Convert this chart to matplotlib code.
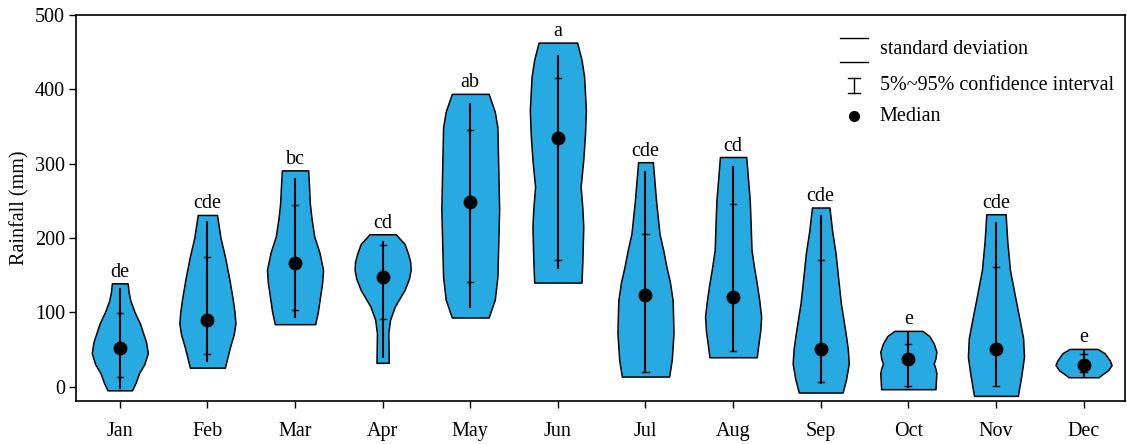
import matplotlib.pyplot as plt
import numpy as np

plt.rcParams['font.family'] = ['Liberation Serif', 'DejaVu Serif']

months = ['Jan', 'Feb', 'Mar', 'Apr', 'May', 'Jun', 'Jul', 'Aug', 'Sep', 'Oct', 'Nov', 'Dec']
letters = ['de', 'cde', 'bc', 'cd', 'ab', 'a', 'cde', 'cd', 'cde', 'e', 'cde', 'e']

medians = [52, 90, 166, 148, 249, 334, 123, 121, 51, 37, 51, 29]
ci_high = [132, 222, 280, 195, 380, 445, 289, 295, 230, 72, 220, 49]
ci_low = [-2, 34, 94, 40, 107, 159, 19, 49, 4.5, 0, 2, 13.5]
sd_high = [99, 175, 245, 191, 345, 415, 205, 246, 170, 57, 161, 44]
sd_low = [13, 44, 103, 91, 141, 171, 19, 48, 6, 1, 1, 19]

# violin outlines: heights and half widths
prof_y = [
    [-5, 5, 18, 30, 45, 60, 85, 100, 116, 128, 139],
    [25.5, 40, 54, 70, 85, 100, 117, 145, 175, 200, 231],
    [84, 100, 116, 140, 157, 180, 202, 225, 246, 270, 291],
    [32, 72, 90, 108, 118, 130, 145, 157, 168, 179, 192, 205],
    [93, 117, 148, 238, 349, 370, 394],
    [140, 170, 215, 240, 269, 305, 340, 372, 417, 440, 463],
    [13.5, 36, 72, 95, 116, 140, 161, 185, 206, 251, 280, 302],
    [39.5, 58, 75, 94, 115, 139, 160, 184, 220, 251, 280, 309],
    [-8, 10, 31, 50, 67, 90, 112, 145, 179, 210, 241],
    [-3.5, 18, 24, 31, 38, 47, 58, 68, 75],
    [-12.5, 15, 40, 65, 90, 120, 157, 195, 232],
    [12.6, 17, 22, 29, 35, 45, 50.7],
]
prof_w = [
    [0.14, 0.18, 0.22, 0.28, 0.32, 0.30, 0.23, 0.17, 0.12, 0.10, 0.09],
    [0.20, 0.23, 0.26, 0.30, 0.32, 0.31, 0.29, 0.25, 0.20, 0.15, 0.11],
    [0.23, 0.26, 0.28, 0.31, 0.32, 0.28, 0.22, 0.19, 0.17, 0.16, 0.15],
    [0.07, 0.065, 0.085, 0.14, 0.19, 0.25, 0.30, 0.32, 0.315, 0.29, 0.25, 0.15],
    [0.21, 0.28, 0.31, 0.33, 0.31, 0.28, 0.21],
    [0.27, 0.28, 0.29, 0.28, 0.26, 0.29, 0.31, 0.32, 0.30, 0.27, 0.22],
    [0.27, 0.30, 0.32, 0.315, 0.31, 0.28, 0.24, 0.20, 0.16, 0.12, 0.10, 0.084],
    [0.27, 0.29, 0.31, 0.32, 0.30, 0.27, 0.24, 0.21, 0.20, 0.19, 0.17, 0.15],
    [0.25, 0.29, 0.32, 0.31, 0.29, 0.26, 0.23, 0.20, 0.17, 0.13, 0.10],
    [0.31, 0.32, 0.31, 0.29, 0.31, 0.32, 0.29, 0.24, 0.16],
    [0.25, 0.29, 0.32, 0.31, 0.27, 0.22, 0.16, 0.13, 0.11],
    [0.17, 0.22, 0.28, 0.32, 0.30, 0.24, 0.16],
]

fs = 14.5
fig = plt.figure(figsize=(11.27, 4.44), dpi=100)
ax = fig.add_axes([0.0674, 0.0975, 0.9306, 0.8685])

for i in range(len(months)):
    x = i + 1
    y = np.array(prof_y[i])
    w = np.array(prof_w[i])
    ax.fill_betweenx(y, x - w, x + w, facecolor='#27AAE1', edgecolor='black', linewidth=1.1, zorder=2)
    ax.plot([x, x], [ci_low[i], ci_high[i]], color='black', lw=1.5, zorder=3)
    ax.plot([x - 0.035, x + 0.035], [sd_high[i], sd_high[i]], color='black', lw=1, zorder=3)
    ax.plot([x - 0.035, x + 0.035], [sd_low[i], sd_low[i]], color='black', lw=1, zorder=3)
    ax.plot(x, medians[i], 'o', color='black', markersize=9, zorder=4)
    ax.text(x, max(y) + 2, letters[i], ha='center', va='bottom', fontsize=fs)

ax.set_xlim(0.5, 12.47)
ax.set_ylim(-19, 500)
ax.set_xticks(range(1, 13))
ax.set_xticklabels(months, fontsize=fs)
ax.set_yticks([0, 100, 200, 300, 400, 500])
ax.tick_params(axis='both', labelsize=fs, direction='out', length=5, width=1)
ax.tick_params(axis='x', pad=10)
ax.tick_params(axis='y', pad=3)
ax.set_ylabel('Rainfall (mm)', fontsize=fs, labelpad=4)
for s in ax.spines.values():
    s.set_linewidth(1.2)

# legend drawn by hand
tr = ax.transAxes
def axx(px):
    return (px - 76) / 1049
def axy(py):
    return (400.7 - py) / 385.7
ax.plot([axx(840), axx(868)], [axy(38), axy(38)], color='black', lw=1, transform=tr)
ax.plot([axx(840), axx(868)], [axy(62), axy(62)], color='black', lw=1, transform=tr)
ax.text(axx(880), axy(49), 'standard deviation', transform=tr, va='center', fontsize=fs)
ax.plot([axx(854), axx(854)], [axy(78), axy(93)], color='black', lw=1, transform=tr)
ax.plot([axx(848), axx(860)], [axy(78), axy(78)], color='black', lw=1, transform=tr)
ax.plot([axx(848), axx(860)], [axy(93), axy(93)], color='black', lw=1, transform=tr)
ax.text(axx(880), axy(85), '5%~95% confidence interval', transform=tr, va='center', fontsize=fs)
ax.plot(axx(854), axy(116), 'o', color='black', markersize=7, transform=tr)
ax.text(axx(880), axy(116), 'Median', transform=tr, va='center', fontsize=fs)

fig.savefig('out.png', dpi=100)
